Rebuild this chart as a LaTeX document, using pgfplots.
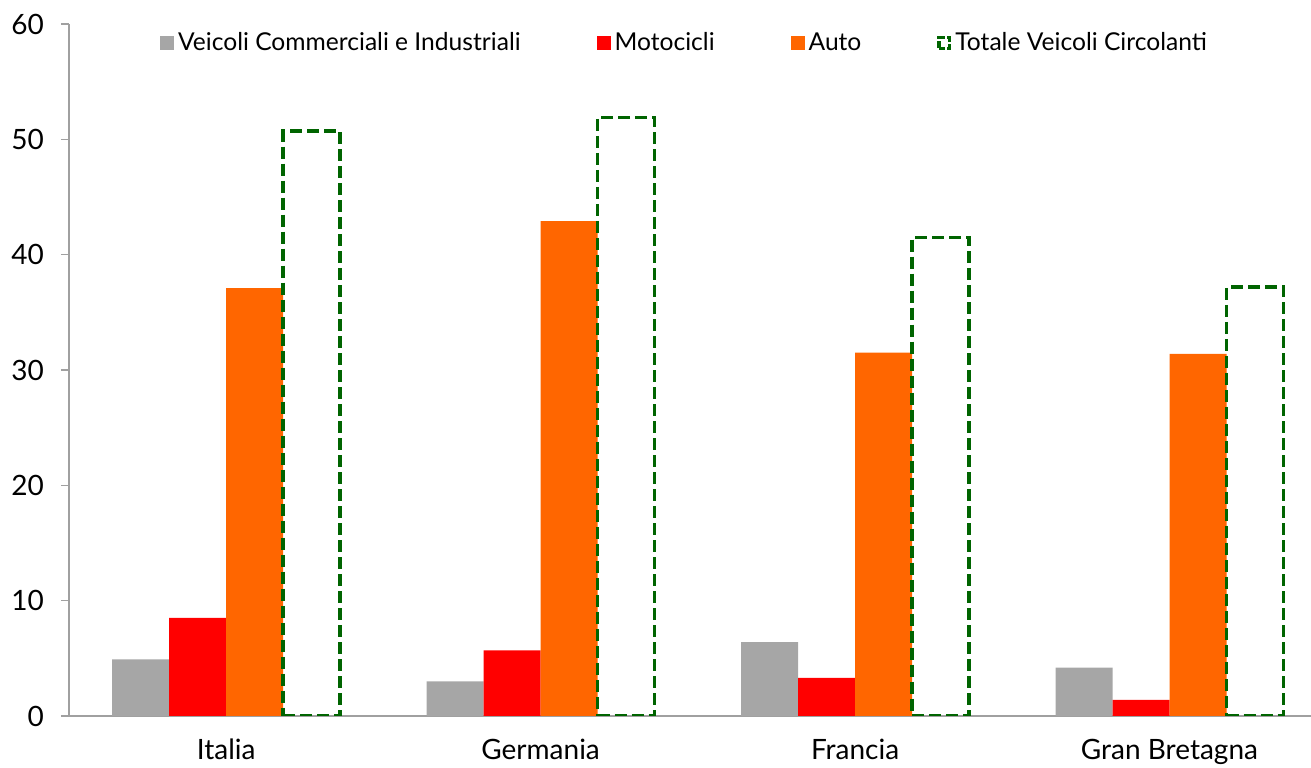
\documentclass[border=0pt]{standalone}
\usepackage{pgfplots}
\pgfplotsset{compat=1.18}
\usepackage{fontspec}
\setmainfont{Lato}
\definecolor{cGray}{RGB}{166,166,166}
\definecolor{cRed}{RGB}{255,0,0}
\definecolor{cOrange}{RGB}{255,102,0}
\definecolor{cGreen}{RGB}{0,100,0}
\definecolor{axGray}{RGB}{160,160,160}
\begin{document}
\begin{tikzpicture}
\begin{axis}[
  scale only axis,
  width=621pt, height=346pt,
  ybar=0pt, bar width=28.5pt,
  xmin=-0.5, xmax=3.45,
  ymin=0, ymax=60,
  ytick={0,10,20,30,40,50,60},
  xtick={0,1,2,3},
  xticklabels={Italia,Germania,Francia,Gran Bretagna},
  extra x ticks={-0.5,0.5,1.5,2.5},
  extra x tick labels={},
  extra x tick style={major tick length=5pt, tick style={axGray, line width=0.8pt}},
  axis x line*=bottom, axis y line*=left,
  axis line style={axGray, line width=0.8pt, -},
  tick align=outside,
  x tick style={draw=none},
  y tick style={axGray, line width=0.8pt},
  major tick length=4pt,
  tick label style={font=\fontsize{14}{16}\selectfont, text=black},
  /pgf/number format/assume math mode=true,
  xticklabel style={yshift=-4pt},
  yticklabel style={xshift=-5pt},
  legend columns=4,
  legend style={at={(0.4964,1)}, anchor=north, yshift=0pt, draw=none, fill=none,
    font=\fontsize{12.3}{14}\selectfont, /tikz/every even column/.append style={column sep=36pt},
    inner sep=2pt},
  legend cell align=left,
]
\addplot[fill=cGray, draw=none, area legend,
  legend image code/.code={\fill[cGray] (0pt,-3.5pt) rectangle (7pt,3.5pt);}]
  coordinates {(0,4.9) (1,3.0) (2,6.4) (3,4.2)};
\addlegendentry{Veicoli Commerciali e Industriali}
\addplot[fill=cRed, draw=none, area legend,
  legend image code/.code={\fill[cRed] (0pt,-3.5pt) rectangle (7pt,3.5pt);}]
  coordinates {(0,8.5) (1,5.7) (2,3.3) (3,1.4)};
\addlegendentry{Motocicli}
\addplot[fill=cOrange, draw=none, area legend,
  legend image code/.code={\fill[cOrange] (0pt,-3.5pt) rectangle (7pt,3.5pt);}]
  coordinates {(0,37.1) (1,42.9) (2,31.5) (3,31.4)};
\addlegendentry{Auto}
\addplot[fill=none, draw=cGreen, line width=1.8pt, dash pattern=on 6pt off 2.5pt, area legend,
  legend image code/.code={\draw[cGreen, line width=1.6pt, dash pattern=on 3.5pt off 1.2pt] (0.8pt,-2.7pt) rectangle (6.2pt,2.7pt);}]
  coordinates {(0,50.7) (1,51.9) (2,41.5) (3,37.2)};
\addlegendentry{Totale Veicoli Circolanti}
\coordinate (bl) at (rel axis cs:0,0);
\coordinate (tr) at (rel axis cs:1,1);
\end{axis}
\pgfresetboundingbox
\path ([xshift=-34.5pt,yshift=-26pt]bl) rectangle ([yshift=12pt]tr);
\end{tikzpicture}
\end{document}
